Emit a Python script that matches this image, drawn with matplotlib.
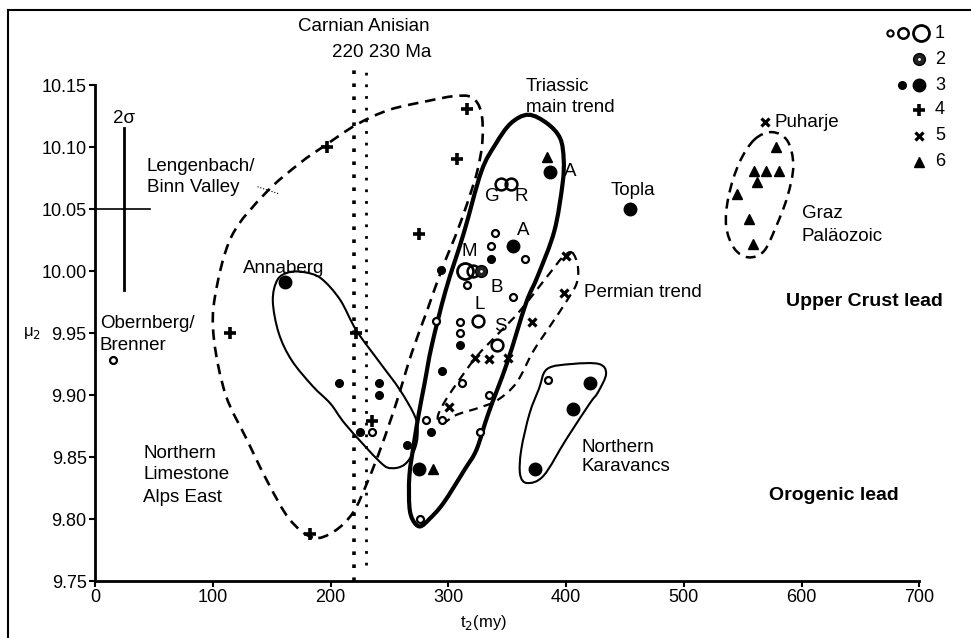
import numpy as np
import matplotlib
matplotlib.use('Agg')
import matplotlib.pyplot as plt
from matplotlib.path import Path
from matplotlib.patches import PathPatch
from matplotlib.lines import Line2D

plt.rcParams['font.family'] = ['Liberation Sans', 'DejaVu Sans']

# ---------------- data (t2 in my, mu2) ----------------
open_small_x = [15, 340, 336, 365, 316, 355, 290, 310, 310, 312, 335, 295, 281, 327, 235, 276, 385]
open_small_y = [9.928, 10.031, 10.020, 10.010, 9.989, 9.979, 9.960, 9.959, 9.950, 9.910, 9.900,
                9.880, 9.880, 9.870, 9.870, 9.800, 9.912]
open_mid_x = [345, 353, 321, 325, 341]
open_mid_y = [10.070, 10.070, 10.000, 9.960, 9.940]
open_big_x = [314]
open_big_y = [10.000]
dotted_x = [328]
dotted_y = [10.000]
fill_small_x = [336, 294, 310, 295, 285, 265, 207, 241, 241, 225]
fill_small_y = [10.010, 10.001, 9.940, 9.919, 9.870, 9.860, 9.910, 9.910, 9.900, 9.870]
fill_big_x = [355, 386, 454, 161, 275, 374, 406, 420]
fill_big_y = [10.020, 10.080, 10.050, 9.991, 9.840, 9.840, 9.889, 9.910]
plus_x = [316, 197, 307, 275, 115, 222, 235, 183]
plus_y = [10.131, 10.100, 10.090, 10.030, 9.950, 9.950, 9.879, 9.788]
cross_x = [569, 400, 398, 371, 323, 335, 351, 301]
cross_y = [10.120, 10.012, 9.982, 9.959, 9.930, 9.929, 9.930, 9.890]
tri_x = [384, 287, 578, 560, 570, 581, 562, 545, 555, 559]
tri_y = [10.092, 9.840, 10.100, 10.081, 10.081, 10.081, 10.072, 10.062, 10.042, 10.022]

# field outlines
lengen_x = [185, 165, 146, 129, 111, 101, 102, 116, 145, 174, 195, 222, 250, 282, 305, 320, 328, 329,
            325, 318, 308, 294, 282, 269, 256, 243, 231, 219, 203]
lengen_y = [9.785, 9.800, 9.831, 9.864, 9.900, 9.945, 9.980, 10.028, 10.063, 10.087, 10.101, 10.118,
            10.130, 10.137, 10.141, 10.140, 10.128, 10.105, 10.082, 10.060, 10.033, 10.000, 9.968,
            9.934, 9.894, 9.858, 9.829, 9.805, 9.790]
trias_x = [368, 384, 395, 398, 397, 390, 376, 366, 350, 334, 324, 314, 296, 284, 276, 270, 267, 267,
           271, 275, 280, 286, 298, 313, 328, 340, 353]
trias_y = [10.126, 10.119, 10.107, 10.090, 10.070, 10.032, 9.996, 9.974, 9.926, 9.885, 9.856, 9.840,
           9.813, 9.800, 9.794, 9.799, 9.810, 9.835, 9.862, 9.885, 9.910, 9.940, 9.985, 10.030,
           10.080, 10.102, 10.119]
anna_x = [165, 178, 192, 208, 222, 242, 259, 272, 274, 271, 263, 252, 242, 213, 200, 185, 167, 156, 151, 155]
anna_y = [9.999, 9.999, 9.994, 9.977, 9.952, 9.926, 9.904, 9.882, 9.868, 9.855, 9.844, 9.841, 9.846,
          9.876, 9.893, 9.907, 9.928, 9.950, 9.976, 9.993]
perm_x = [405, 410, 409, 400, 386, 372, 358, 342, 327, 307, 295, 291, 296, 307, 324, 342, 361, 386, 397]
perm_y = [10.015, 10.004, 9.990, 9.975, 9.955, 9.935, 9.910, 9.896, 9.890, 9.884, 9.877, 9.882,
          9.893, 9.909, 9.931, 9.949, 9.968, 9.998, 10.011]
kara_x = [384, 405, 428, 434, 427, 420, 400, 381, 367, 361, 362, 369, 377]
kara_y = [9.921, 9.925, 9.925, 9.917, 9.902, 9.893, 9.864, 9.835, 9.829, 9.836, 9.856, 9.885, 9.905]
graz_x = [560, 575, 588, 593, 588, 578, 568, 555, 543, 536, 538, 547]
graz_y = [10.106, 10.112, 10.105, 10.085, 10.060, 10.035, 10.016, 10.011, 10.018, 10.036, 10.060, 10.087]

age_lines = [220, 230]
sigma_x, sigma_lo, sigma_hi = 25, 9.985, 10.115
sigma_hx = [0, 47]
sigma_hy = 10.05

x_ticks = [0, 100, 200, 300, 400, 500, 600, 700]
y_ticks = [9.75, 9.80, 9.85, 9.90, 9.95, 10.00, 10.05, 10.10, 10.15]

# ---------------- figure ----------------
W, H = 971, 638
fig = plt.figure(figsize=(W / 100, H / 100), dpi=100)
ax = fig.add_axes([95 / W, 1 - 581 / H, (919.3 - 95) / W, (581 - 85) / H])
ax.set_xlim(0, 700)
ax.set_ylim(9.75, 10.15)
for s in ['top', 'right']:
    ax.spines[s].set_visible(False)
for s in ['left', 'bottom']:
    ax.spines[s].set_linewidth(2.0)
ax.set_xticks(x_ticks)
ax.set_yticks(y_ticks)
ax.set_yticklabels([f'{v:.2f}' for v in y_ticks])
ax.tick_params(direction='out', length=4, width=1.5, labelsize=13, pad=2)

FS = 13.5


def smooth_closed(xs, ys):
    P = np.column_stack([xs, ys]).astype(float)
    n = len(P)
    verts = [P[0]]
    codes = [Path.MOVETO]
    for i in range(n):
        p0, p1, p2, p3 = P[i - 1], P[i], P[(i + 1) % n], P[(i + 2) % n]
        verts += [p1 + (p2 - p0) / 6, p2 - (p3 - p1) / 6, p2]
        codes += [Path.CURVE4] * 3
    return Path(verts, codes)


def outline(xs, ys, lw, ls):
    ax.add_patch(PathPatch(smooth_closed(xs, ys), fill=False, lw=lw, ls=ls, ec='black',
                           capstyle='butt', joinstyle='round', zorder=2))


outline(lengen_x, lengen_y, 1.9, (0, (4, 2.6)))
outline(trias_x, trias_y, 3.0, '-')
outline(anna_x, anna_y, 1.5, '-')
outline(perm_x, perm_y, 1.6, (0, (4, 2.8)))
outline(kara_x, kara_y, 1.5, '-')
outline(graz_x, graz_y, 1.8, (0, (4, 2.6)))

# age lines
ax.plot([age_lines[0]] * 2, [9.75, 10.168], ls=(0, (1, 2.6)), lw=2.6, color='black', clip_on=False)
ax.plot([age_lines[1]] * 2, [9.763, 10.165], ls=(0, (1, 3.2)), lw=2.0, color='black', clip_on=False)

# 2 sigma
ax.plot([sigma_x, sigma_x], [sigma_lo, sigma_hi], color='black', lw=2)
ax.plot(sigma_hx, [sigma_hy, sigma_hy], color='black', lw=1.2)
ax.text(sigma_x, 10.123, '2σ', ha='center', va='center', fontsize=FS)

# points
ax.plot(open_small_x, open_small_y, 'o', ms=5, mfc='white', mec='black', mew=1.6, ls='none', zorder=4)
ax.plot(open_mid_x, open_mid_y, 'o', ms=8.5, mfc='none', mec='black', mew=1.8, ls='none', zorder=4)
ax.plot(open_big_x, open_big_y, 'o', ms=11.5, mfc='none', mec='black', mew=2, ls='none', zorder=4)
ax.plot(dotted_x, dotted_y, 'o', ms=8.5, mfc='#222222', mec='black', mew=1, ls='none', zorder=4)
ax.plot(dotted_x, dotted_y, 'o', ms=2, mfc='white', mec='none', ls='none', zorder=5)
ax.plot(fill_small_x, fill_small_y, 'o', ms=5.5, color='black', ls='none', zorder=4)
ax.plot(fill_big_x, fill_big_y, 'o', ms=9, color='black', ls='none', zorder=4)
ax.plot(plus_x, plus_y, '+', ms=8, mew=2.6, color='black', ls='none', zorder=4)
ax.plot(cross_x, cross_y, 'x', ms=6, mew=2.3, color='black', ls='none', zorder=4)
ax.plot(tri_x, tri_y, '^', ms=7, color='black', ls='none', zorder=4)

# leader line
ax.plot([138, 157], [10.068, 10.062], color='black', lw=0.8, ls=':')

# labels
def lab(x, y, s, **kw):
    kw.setdefault('fontsize', FS)
    kw.setdefault('va', 'center')
    kw.setdefault('ha', 'left')
    ax.text(x, y, s, **kw)

lab(44, 10.084, 'Lengenbach/')
lab(44, 10.067, 'Binn Valley')
lab(4, 9.958, 'Obernberg/')
lab(4, 9.940, 'Brenner')
lab(126, 10.002, 'Annaberg')
lab(41, 9.853, 'Northern')
lab(41, 9.8355, 'Limestone')
lab(41, 9.817, 'Alps East')
lab(366, 10.149, 'Triassic')
lab(366, 10.132, 'main trend')
lab(398, 10.080, 'A')
lab(364, 10.033, 'A', ha='center')
lab(337, 10.060, 'G', ha='center')
lab(362, 10.060, 'R', ha='center')
lab(318, 10.0156, 'M', ha='center')
lab(341, 9.987, 'B', ha='center')
lab(327, 9.9726, 'L', ha='center')
lab(344, 9.955, 'S', ha='center')
lab(457, 10.065, 'Topla', ha='center')
lab(577, 10.120, 'Puharje')
lab(600, 10.046, 'Graz')
lab(600, 10.028, 'Paläozoic')
lab(415, 9.983, 'Permian trend')
lab(587, 9.975, 'Upper Crust lead', fontweight='bold', fontsize=14)
lab(572, 9.819, 'Orogenic lead', fontweight='bold', fontsize=14)
lab(413, 9.858, 'Northern')
lab(413, 9.842, 'Karavancs')
lab(284.5, 10.197, 'Carnian Anisian', ha='right')
lab(201, 10.176, '220 230 Ma')

fig.text(330 / 1 * 0 + (95 + 1.1776 * 330) / W, (638 - 622) / H, 't$_2$(my)', fontsize=12,
         ha='center', va='center')
fig.text(32 / W, 1 - 333 / H, 'μ$_2$', fontsize=12, ha='center', va='center')

# legend (figure pixel positions)
def fx(px):
    return px / W

def fy(py):
    return 1 - py / H

legend_rows = [33, 59, 85, 110, 136, 162]
tf = fig.transFigure
def lm(px, py, **kw):
    fig.add_artist(Line2D([fx(px)], [fy(py)], transform=tf, ls='none', color='black', **kw))

lm(890, 33, marker='o', ms=4.5, mfc='white', mec='black', mew=1.5)
lm(903, 33, marker='o', ms=7.5, mfc='white', mec='black', mew=1.8)
lm(921, 33, marker='o', ms=11.5, mfc='white', mec='black', mew=2)
lm(919, 59, marker='o', ms=8.5, mfc='#222222', mec='black')
lm(919, 59, marker='o', ms=2, mfc='white', mec='none')
lm(902, 85, marker='o', ms=5.5)
lm(919, 85, marker='o', ms=9)
lm(919, 110, marker='+', ms=8, mew=2.6)
lm(919, 136, marker='x', ms=6, mew=2.3)
lm(919, 162, marker='^', ms=7)
for i, py in enumerate(legend_rows):
    fig.text(fx(935), fy(py), str(i + 1), fontsize=13, ha='left', va='center')

# outer frame (top and left)
fig.add_artist(Line2D([fx(8), fx(971)], [fy(10), fy(10)], transform=tf, color='black', lw=1.5))
fig.add_artist(Line2D([fx(8), fx(8)], [fy(10), fy(638)], transform=tf, color='black', lw=1.5))

fig.savefig('out.png', dpi=100)
